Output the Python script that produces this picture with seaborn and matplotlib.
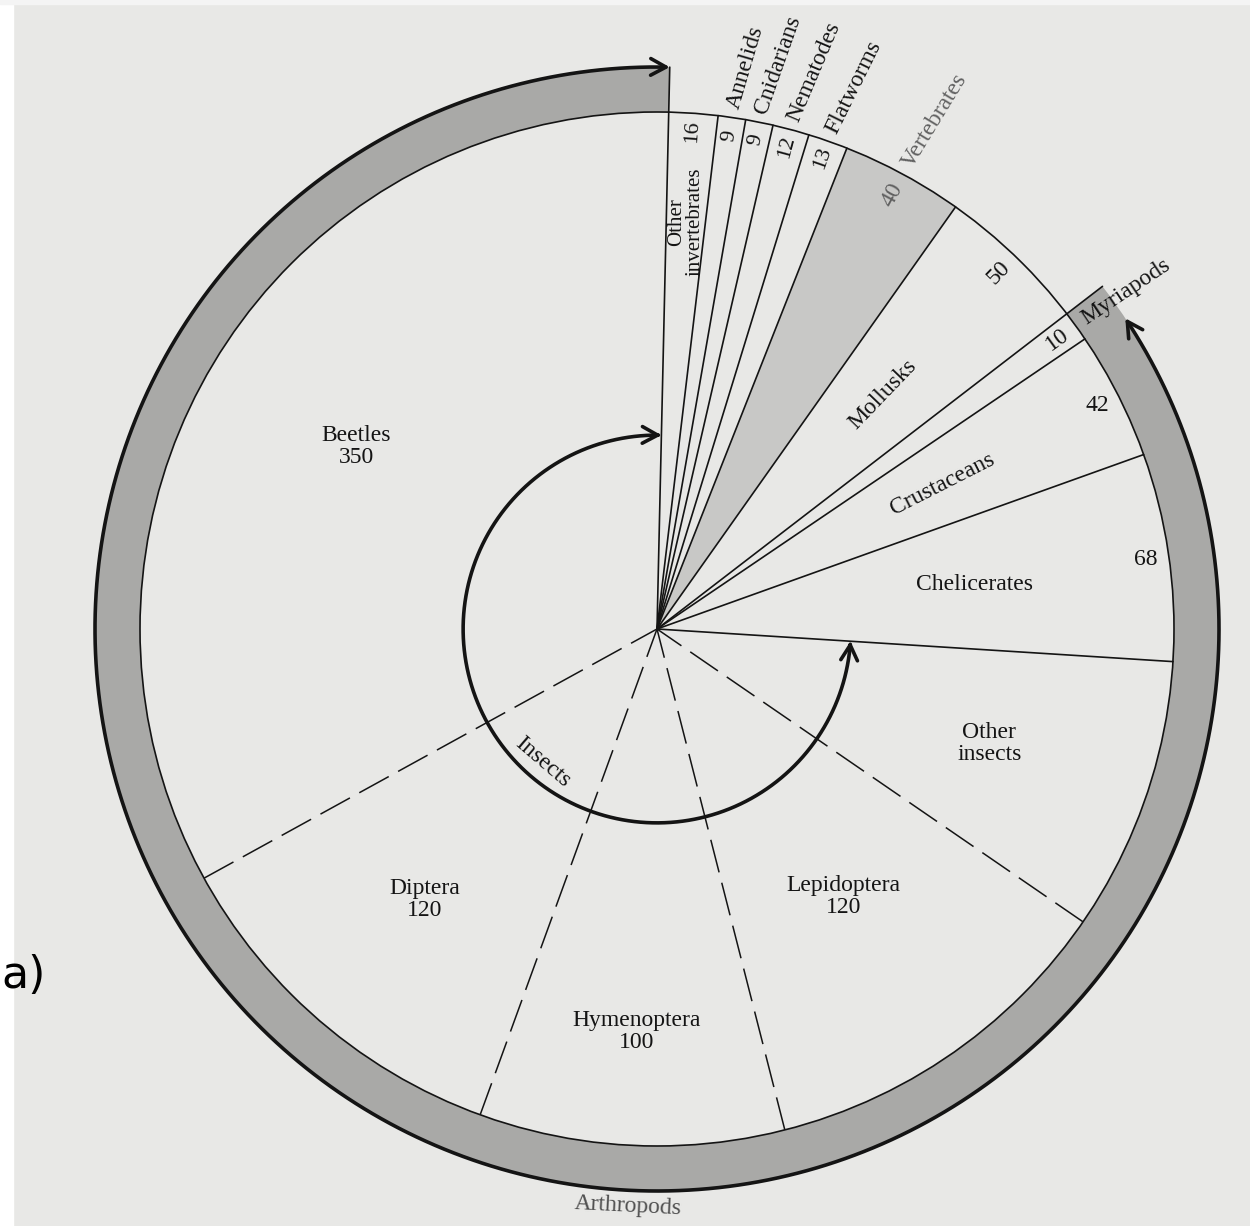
import numpy as np
import matplotlib
matplotlib.use("Agg")
import matplotlib.pyplot as plt
import matplotlib.patches as mpatches
from matplotlib.path import Path
import seaborn as sns

# Described species (thousands), clockwise from 12 o'clock
groups = ["Other invertebrates", "Annelids", "Cnidarians", "Nematodes", "Flatworms",
          "Vertebrates", "Mollusks", "Myriapods", "Crustaceans", "Chelicerates",
          "Other insects", "Lepidoptera", "Hymenoptera", "Diptera", "Beetles"]
species = [16, 9, 9, 12, 13, 40, 50, 10, 42, 68, 90, 120, 100, 120, 350]
insects = ["Other insects", "Lepidoptera", "Hymenoptera", "Diptera", "Beetles"]
arthropods = ["Myriapods", "Crustaceans", "Chelicerates"] + insects

sns.set_theme(style="white")
plt.rcParams['font.family'] = ['Liberation Serif', 'DejaVu Serif']

paper = '#e8e8e6'
ink = '#141414'
W, H = 1250, 1226
cx, cy, R = 657, 629, 517          # pixel centre and radius of the pie
ring_r = 562 / R
start = 88.7

fig = plt.figure(figsize=(W / 100, H / 100), dpi=100, facecolor=paper)
fig.patches.append(mpatches.Rectangle((0, 0), 13 / W, 1, transform=fig.transFigure,
                                      color='white', zorder=-1))
fig.patches.append(mpatches.Rectangle((0, 1 - 4 / H), 1, 4 / H, transform=fig.transFigure,
                                      color='#f4f4f4', zorder=-1))
ax = fig.add_axes([0, 0, 1, 1])
ax.set_facecolor('none')

fills = ['#c8c8c6' if g == 'Vertebrates' else 'none' for g in groups]
wedges, _ = ax.pie(species, startangle=start, counterclock=False, radius=1,
                   colors=fills, wedgeprops=dict(linewidth=0))

# outer Arthropods band
arth_total = sum(v for g, v in zip(groups, species) if g in arthropods)
rest_total = sum(species) - arth_total
ring, _ = ax.pie([rest_total, arth_total], startangle=start, counterclock=False,
                 radius=ring_r, colors=['none', '#a9a9a7'],
                 wedgeprops=dict(width=ring_r - 1, linewidth=0))


def xy(r, deg):
    t = np.deg2rad(deg)
    return r * np.cos(t), r * np.sin(t)


mid = {g: (w.theta1 + w.theta2) / 2 for g, w in zip(groups, wedges)}
val = dict(zip(groups, species))

ax.add_patch(mpatches.Circle((0, 0), 1, fill=False, ec=ink, lw=1.2, zorder=3))

# radial boundaries (dashed between insect orders)
x, y = xy(ring_r, wedges[0].theta2)
ax.plot([0, x], [0, y], color=ink, lw=1.2, zorder=3)
for i in range(len(groups) - 1):
    a = wedges[i].theta1
    outer = ring_r if (groups[i] not in arthropods and groups[i + 1] in arthropods) else 1
    x, y = xy(outer, a)
    if groups[i] in insects and groups[i + 1] in insects:
        ax.plot([x, 0], [y, 0], color=ink, lw=1.1, linestyle=(0, (22, 7)), zorder=3)
    else:
        ax.plot([x, 0], [y, 0], color=ink, lw=1.2, zorder=3)

arrow = '<->,head_length=0.55,head_width=0.3'

# Arthropods arrow on the band's outer edge
t = np.linspace(ring[1].theta2 - 4, ring[1].theta1, 300)
px, py = xy(ring_r, t)
ax.add_patch(mpatches.FancyArrowPatch(path=Path(np.column_stack([px, py])), arrowstyle=arrow,
                                      mutation_scale=20, lw=2.6, color=ink, zorder=4))

# Insects arrow
ins_w = [w for g, w in zip(groups, wedges) if g in insects]
t = np.linspace(ins_w[0].theta2, ins_w[-1].theta1, 300)
px, py = xy(0.375, t)
ax.add_patch(mpatches.FancyArrowPatch(path=Path(np.column_stack([px, py])), arrowstyle=arrow,
                                      mutation_scale=20, lw=2.6, color=ink, zorder=4))

fs = 17
txt = dict(color=ink, fontsize=fs, ha='center', va='center', zorder=5)
grey_txt = '#606060'

# names with values inside the big wedges
for g, r in [("Beetles", 0.68), ("Diptera", 0.69), ("Hymenoptera", 0.78), ("Lepidoptera", 0.63)]:
    ax.text(*xy(r, mid[g]), f"{g}\n{val[g]}", linespacing=1.05, **txt)
ax.text(*xy(0.68, mid["Other insects"]), "Other\ninsects", linespacing=1.05, **txt)

# names inside, upright or along the wedge
ax.text(*xy(0.62, mid["Chelicerates"]), "Chelicerates", **txt)
for g, r in [("Crustaceans", 0.62), ("Mollusks", 0.63)]:
    ax.text(*xy(r, mid[g]), g, rotation=mid[g], rotation_mode='anchor', **txt)
ax.text(*xy(0.79, mid["Other invertebrates"]), "Other\ninvertebrates", rotation=90,
        linespacing=0.92, **{**txt, 'fontsize': 15})

# values near the rim
for g in ["Chelicerates", "Crustaceans"]:
    ax.text(*xy(0.955, mid[g]), str(val[g]), **txt)
for g in ["Mollusks", "Myriapods", "Vertebrates"]:
    c = grey_txt if g == 'Vertebrates' else ink
    ax.text(*xy(0.955, mid[g]), str(val[g]), rotation=mid[g], rotation_mode='anchor',
            **{**txt, 'color': c})
for g in ["Other invertebrates", "Annelids", "Cnidarians", "Nematodes", "Flatworms"]:
    ax.text(*xy(0.965, mid[g]), str(val[g]), rotation=mid[g], rotation_mode='anchor',
            **{**txt, 'fontsize': 16})

# names outside the circle
for g, off in [("Annelids", 8), ("Cnidarians", 8), ("Nematodes", 8), ("Flatworms", 7),
               ("Vertebrates", 3), ("Myriapods", 2)]:
    c = grey_txt if g == 'Vertebrates' else ink
    ax.text(*xy(1.018, mid[g]), g, rotation=mid[g] - off, rotation_mode='anchor',
            **{**txt, 'ha': 'left', 'color': c})

ax.text(*xy(0.34, mid["Diptera"]), "Insects", rotation=mid["Diptera"] - 270,
        rotation_mode='anchor', **txt)
ax.text(*xy(1.118, mid["Hymenoptera"]), "Arthropods", rotation=mid["Hymenoptera"] - 270,
        rotation_mode='anchor', **{**txt, 'color': '#505050'})

fig.text(0.001, 1 - 975 / H, "a)", fontsize=32, family='DejaVu Sans', color='black',
         ha='left', va='center')

ax.set_xlim(-cx / R, (W - cx) / R)
ax.set_ylim(-(H - cy) / R, cy / R)
ax.set_aspect('auto')
ax.axis('off')
fig.savefig('out.png', dpi=100, facecolor=paper)
